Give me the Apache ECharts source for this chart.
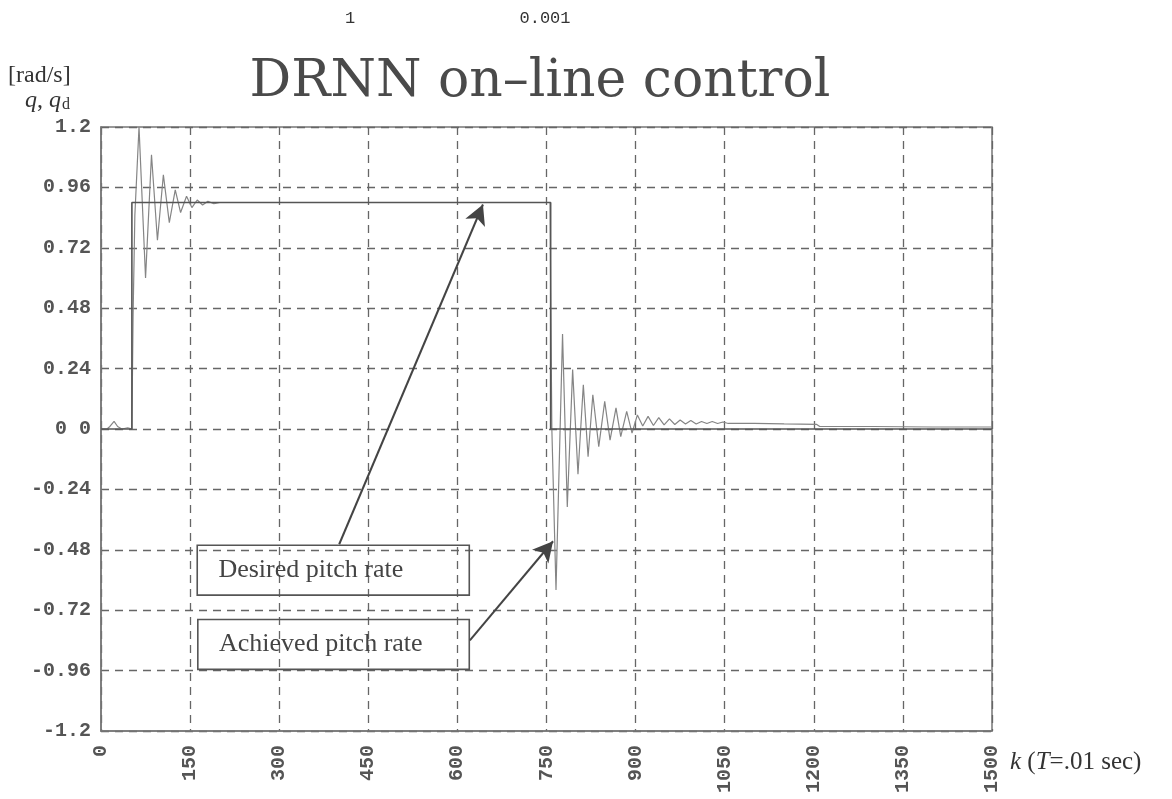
<!DOCTYPE html>
<html>
<head>
<meta charset="utf-8">
<script src="https://cdn.jsdelivr.net/npm/echarts@6/dist/echarts.min.js"></script>
<style>html,body{margin:0;padding:0;background:#fff}#c{width:1172px;height:799px}</style>
</head>
<body>
<div id="c"></div>
<script>
// ---- data ----
const xTickLabels = ['0','150','300','450','600','750','900','1050','1200','1350','1500'];
const yTickLabels = ['-1.2','-0.96','-0.72','-0.48','-0.24','0 0','0.24','0.48','0.72','0.96','1.2'];

const desiredK = [0, 52, 52, 757, 757, 1500];
const desiredV = [0, 0, 0.9, 0.9, 0, 0];

const achievedK = [0, 10, 15, 22, 28, 35, 45, 52, 54, 57, 64, 75, 85, 95, 105, 115, 125, 134, 144, 153, 162, 171, 180, 190, 200, 400, 600, 756,
  757, 759, 766, 777, 785, 794, 803, 812, 820, 828, 838, 848, 857, 867, 875, 885, 894, 903,
  912, 921, 930, 939, 948, 957, 966, 975, 984, 993, 1002, 1011, 1020, 1029, 1038, 1047, 1056, 1100, 1150, 1205, 1210, 1300, 1400, 1500];
const achievedV = [0, 0, 0.01, 0.03, 0.01, 0, 0.005, 0, 0.45, 0.85, 1.2, 0.6, 1.09, 0.75, 1.01, 0.82, 0.95, 0.86, 0.925, 0.88, 0.91, 0.89, 0.905, 0.895, 0.9, 0.9, 0.9, 0.9,
  0.54, 0.0, -0.64, 0.377, -0.31, 0.236, -0.18, 0.176, -0.11, 0.136, -0.07, 0.11, -0.044, 0.084, -0.03, 0.07, -0.016, 0.056,
  0.012, 0.05, 0.014, 0.045, 0.016, 0.04, 0.018, 0.036, 0.02, 0.034, 0.02, 0.03, 0.022, 0.03, 0.022, 0.028, 0.022, 0.022, 0.02, 0.018, 0.01, 0.01, 0.008, 0.008];

// annotations in data coordinates
const arrowDesired = [[401, -0.458], [643, 0.892]];
const arrowAchieved = [[621, -0.84], [761, -0.446]];
const boxDesired = [[162, -0.462], [620, -0.66]];
const boxAchieved = [[163, -0.757], [620, -0.955]];

const desired = desiredK.map((k, i) => [k, desiredV[i]]);
const achieved = achievedK.map((k, i) => [k, achievedV[i]]);

const chart = echarts.init(document.getElementById('c'), null, {renderer: 'canvas'});
const monoLabel = {fontFamily: 'Liberation Mono', fontWeight: 'bold', fontSize: 20, color: '#555'};
const serif = 'Liberation Serif';

chart.setOption({
  backgroundColor: '#fff',
  animation: false,
  grid: {left: 101, right: 180, top: 127, bottom: 68, show: true, borderColor: '#777', borderWidth: 1.5},
  xAxis: {
    type: 'value', min: 0, max: 1500, interval: 150,
    axisLine: {show: true, onZero: false, lineStyle: {color: '#777', width: 1.5}},
    axisTick: {show: false},
    axisLabel: Object.assign({rotate: 90, margin: 14, formatter: (v) => xTickLabels[Math.round(v / 150)]}, monoLabel),
    splitLine: {show: true, lineStyle: {type: [8, 6], color: '#666', width: 1.3}}
  },
  yAxis: {
    type: 'value', min: -1.2, max: 1.2, interval: 0.24,
    axisLine: {show: true, onZero: false, lineStyle: {color: '#777', width: 1.5}},
    axisTick: {show: false},
    axisLabel: Object.assign({margin: 10, formatter: (v) => yTickLabels[Math.round((v + 1.2) / 0.24)]}, monoLabel),
    splitLine: {show: true, lineStyle: {type: [8, 6], color: '#666', width: 1.3}}
  },
  series: [
    {
      name: 'Desired pitch rate', type: 'line', data: desired, symbol: 'none', z: 4,
      lineStyle: {color: '#555', width: 1.6}
    },
    {
      name: 'Achieved pitch rate', type: 'line', data: achieved, symbol: 'none', z: 3,
      lineStyle: {color: '#858585', width: 1.2},
      markLine: {
        silent: true, symbol: ['none', 'arrow'], symbolSize: [16, 20],
        lineStyle: {color: '#444', width: 2, type: 'solid'},
        label: {show: false},
        data: [
          [{coord: arrowDesired[0]}, {coord: arrowDesired[1]}],
          [{coord: arrowAchieved[0]}, {coord: arrowAchieved[1]}]
        ]
      },
      markArea: {
        silent: true,
        itemStyle: {color: 'rgba(0,0,0,0)', borderColor: '#555', borderWidth: 1.6},
        label: {show: true, position: 'insideLeft', distance: 22, fontFamily: serif, fontSize: 26, color: '#444'},
        data: [
          [{name: 'Desired pitch rate', coord: boxDesired[0]}, {coord: boxDesired[1]}],
          [{name: 'Achieved pitch rate', coord: boxAchieved[0]}, {coord: boxAchieved[1]}]
        ]
      }
    }
  ],
  graphic: [
    {type: 'text', x: 540, y: 82, style: {text: 'DRNN on–line control', font: '52px "DejaVu Serif"', fill: '#4a4a4a', align: 'center', verticalAlign: 'middle'}},
    {type: 'text', x: 350, y: 18, style: {text: '1', font: '17px "Liberation Mono"', fill: '#333', align: 'center', verticalAlign: 'middle'}},
    {type: 'text', x: 545, y: 18, style: {text: '0.001', font: '17px "Liberation Mono"', fill: '#333', align: 'center', verticalAlign: 'middle'}},
    {type: 'text', x: 8, y: 76, style: {text: '[rad/s]', font: '24px "Liberation Serif"', fill: '#333', verticalAlign: 'middle'}},
    {type: 'text', x: 25, y: 101, style: {
      text: '{i|q}, {i|q}{s|d}', fill: '#333', verticalAlign: 'middle', font: '24px "Liberation Serif"',
      rich: {i: {fontStyle: 'italic', fontFamily: serif, fontSize: 24, fill: '#333'}, s: {fontFamily: serif, fontSize: 16, fill: '#333', padding: [8, 0, 0, 1]}}
    }},
    {type: 'text', x: 1010, y: 762, style: {
      text: '{i|k} ({i|T}=.01 sec)', fill: '#333', verticalAlign: 'middle', font: '25px "Liberation Serif"',
      rich: {i: {fontStyle: 'italic', fontFamily: serif, fontSize: 25, fill: '#333'}}
    }}
  ]
});
</script>
</body>
</html>
